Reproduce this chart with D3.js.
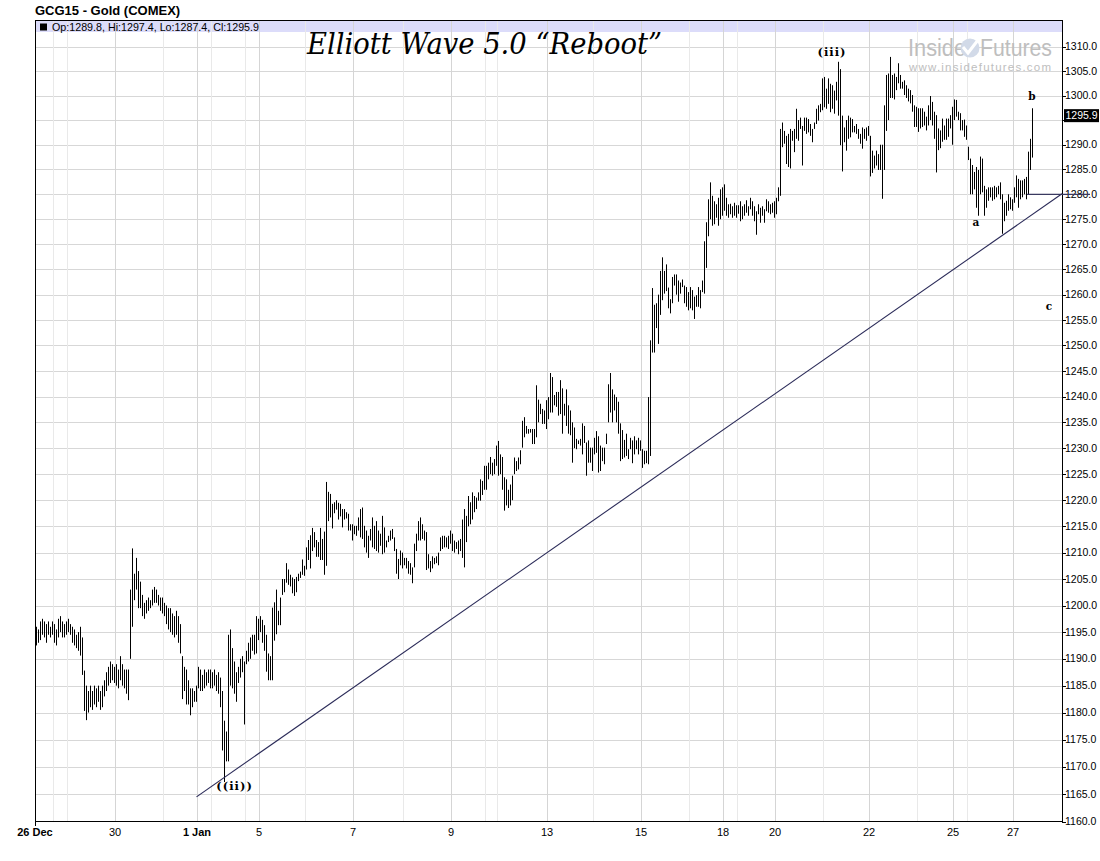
<!DOCTYPE html>
<html>
<head>
<meta charset="utf-8">
<script src="https://cdn.jsdelivr.net/npm/d3@7"></script>
<style>
  body { margin: 0; background: #fff; }
  svg { display: block; }
</style>
</head>
<body>
<div id="viz"></div>
<script>
const width = 1100;
const height = 861;
const plot = {left: 35, right: 1062, top: 21, bottom: 822};

// hourly bars, high / low
const highs = [
  1196,1195.5,1197,1197.5,1197,1196.5,1197,1196,1197,1196.5,1195.5,1197.5,1198,1197,1196.5,1197,1197.5,1196.5,1196,1195.5,1194.5,1195,1196,
  1194,1187.8,1185,1184,1185,1184,1185,1184.5,1185,1184,1185,1186,1187.5,1188.5,1189.5,1189,1188.5,1189,1188,1190.5,1189,1188,1188,1188,
  1203,1210.8,1206,1209,1206.5,1204.5,1202,1200.5,1201,1201.5,1201,1203,1203.5,1203,1202,1201.5,1201.5,1200.5,1200,1199.5,1199.5,1198.5,1198,1199,1198,1196.5,
  1190.5,1188.5,1188,1186,1184.5,1184.5,1184,1185,1188.5,1188,1187,1188,1187.5,1188,1188,1187.5,1188,1187,1187.5,1186.5,1184,1178.5,1176.5,1194.5,
  1195.5,1192,1189.5,1187.5,1188.5,1190,1190.5,1189.5,1191.5,1193,1194,1194.5,1194.5,1198,1197.5,1198,
  1197.3,1196.3,1194.5,1191,1190.5,1199.6,1200.6,1203,1199,1201.5,1205,1205,1208,1206.8,1205.8,1205.3,1205,1205.4,1206,1206.4,1208.7,1207.5,1211,1212.4,1213.3,1214.7,1213.9,1212.4,1212,1214.7,1212.6,1214,1223.5,1221.6,
  1221.2,1219.3,1219.6,1220,1219.5,1219.3,1218.3,1218.3,1217.7,1217.4,1215.4,1215.4,1215.1,1215.1,1216.7,1218.3,1218.6,1215.1,1214.2,1213.2,1214.5,1216.7,1215.1,1216,1214.2,1213.6,1217,1214.8,1212.3,1213.2,1214.2,1214.5,1212.9,1210.7,
  1208.8,1210.4,1210,1209,1209,1208.4,1208,1207.2,1211.7,1213.6,1216,1216.7,1215.4,1214.2,1213.9,1209.7,1208.4,1209.3,1209,1209.3,1210,1212.9,1213.2,1213.2,1212.9,1213.2,1214.2,1213.6,1212.3,1212,1212.3,1212.6,1216.3,1218.3,1217,1220.8,1219.6,1221.5,1220.8,1220.5,1221.5,1224,
  1223.7,1226.6,1226.6,1227.2,1228.3,1227.2,1227.9,1230.5,1231.4,1228.8,1228.3,1224.4,1224,1222,1223,1224.7,1228.2,1227.5,1228.2,1229.6,1235.3,1236,1234.3,1233.7,1233.7,1233.7,1233.7,1242.2,1239.4,1238.6,1237.6,1237.3,1239.3,1239.9,1244.6,1243.8,1240.3,1240.9,
  1240.9,1243.2,1241.6,1238.6,1241.4,1238.3,1237.3,1235,1234,1231.8,1231.5,1231.8,1234.8,1234.3,1231.1,1231.5,1230.1,1230.1,1232,1233.3,1232.3,1230.5,1230.1,1230.1,1232.8,1242.4,1244.6,1241.4,1240.4,1239.9,1239,1234.8,1233.5,1231.6,1232.8,1229.8,1232,1231.5,1232.3,1231.5,
  1232,1231.5,1229.8,1229.5,1229.5,1239.9,1251,1261.3,1258,1258.3,1260,1264.7,1267.4,1264.7,1266,1261.4,1259.1,1263.5,1264,1264,1262.8,1262.4,1263,1261.8,1261.5,1260.5,1261.5,1260.9,1259.6,1259.9,1261.5,1260.9,1262.8,1270.6,1274.4,
  1279,1282.4,1279.7,1278.6,1278,1279.3,1281,1281.4,1282,1279.3,1278,1278.1,1277.6,1278.3,1277.8,1277.8,1278.6,1277.6,1278,1278.8,1277.6,1279.3,1278.6,1277.6,1276.6,1278,1277.3,1277.6,1277,1279,1278.6,1278,1278.3,1278.6,1279.3,1281.4,1293.2,1294.5,1292.8,1291.8,
  1292.2,1293.2,1292.8,1293.2,1297.3,1295,1295.5,1293.8,1295.5,1295.5,1295.2,1294.2,1293.2,1294.5,1297.3,1298,1298.3,1303.5,1303.8,1301.4,1303.5,1302.4,1302.1,1301,1302.8,1306.9,1305.4,1295.9,1293.5,1295,1295.9,1295.5,1295.2,1293.8,1294.2,1293.2,1292.2,1293.5,1293.2,1293.5,1293.8,
  1291.8,1288.8,1287.8,1288.8,1288.1,1290,1290,1298,1304.2,1304.5,1307.9,1304.2,1304.5,1303.8,1306.6,1304.2,1302.8,1303.1,1302.1,1301.4,1301.1,1300.1,1298,1297.7,1297.4,1297.4,1297.4,1296.7,1295.7,1298,1299.9,1298.7,1296.7,1296,1293.3,1292.9,1295.3,1293.9,1295.3,1295.3,1296,1297.7,
  1299.2,1299.1,1296.7,1296.4,1295,1295.1,1293.9,1289.6,1287.2,1285.9,1284.5,1285.5,1284.9,1287.6,1287.2,1281.7,1281,1281.4,1281.4,1281.4,1281.7,1281.4,1281.7,1282.4,1280,1278.3,1278.7,1280,1279.4,1279,1281.4,1283.8,1283.1,1282.8,1282.8,1283.1,1283.5,1288.6,1291.2,1297.4
];
const lows = [
  1192.5,1193,1193.5,1194.5,1194,1193,1194.5,1194,1194.5,1193,1192.5,1194,1195,1194,1194,1194.5,1195,1194.5,1193,1192.5,1192,1191.5,1190.6,
  1187,1180.3,1178.6,1180,1181,1180.5,1181.5,1181,1182,1180.5,1181,1183,1184,1185,1185.5,1186,1185.5,1185,1184.5,1186,1185,1184.5,1183.5,1182.3,
  1190,1196,1201,1203,1199.5,1199.5,1198,1197.5,1198.5,1199,1199.5,1200,1200.5,1200.5,1200,1199,1198.5,1198,1196.5,1195.5,1195,1194.5,1194,1194.5,1193,1191,
  1182.5,1184,1181.5,1181.5,1179.5,1181,1182,1182,1184.5,1184,1184,1184.5,1185,1185.5,1184.5,1184.5,1185,1184,1183.5,1181,1173,1167.2,1171,1171,
  1185,1184.5,1183.5,1182,1185.5,1186.5,1187.5,1177.8,1189,1189.5,1190,1191.5,1190.8,1191,1193.5,1195,
  1193,1191.5,1187.6,1186,1186,1186,1193.4,1194.6,1196.3,1196.3,1202,1202.5,1204.3,1203.9,1203.6,1202.3,1201.8,1202.5,1204.6,1205.2,1205.8,1205.6,1206.8,1208.6,1207,1210.3,1211,1209.2,1209.2,1208.6,1208.6,1205.8,1207.5,1216,
  1216.7,1214.6,1217.5,1218.2,1216.3,1216.9,1214.8,1216.3,1216.5,1214.2,1214.2,1212.3,1213.5,1213.2,1214.2,1212.9,1212.6,1211,1210,1209,1212.3,1211,1210.7,1210.3,1210,1211.3,1209.7,1210,1211,1212,1212.3,1212.6,1210.3,1206,
  1205,1207.6,1207,1207.6,1207,1206,1205.8,1204.2,1207.2,1210.3,1212.3,1212.3,1212.6,1212.3,1206.7,1207,1206.3,1207,1207.8,1208,1207.6,1210.3,1210.7,1211,1211,1210.7,1211.7,1210.3,1210,1210.7,1209.7,1210.3,1209,1207.2,1212,1215,1215.4,1216.3,1217.7,1218.3,1219.9,1219.9,
  1221,1222,1222,1224,1225,1224.7,1225,1226.6,1224.7,1225,1222,1218,1219,1218.5,1219,1220,1225,1225.6,1225.9,1226.9,1230.1,1232.1,1232.8,1232.8,1233,1230.8,1230.8,1232.1,1235,1236.6,1234.7,1234.7,1233.7,1235.6,1236.9,1236.9,1238.3,1238,
  1236.3,1236.6,1232.8,1236.3,1234.3,1232.8,1232.5,1227.2,1230,1229.8,1230.8,1230.5,1228.8,1231,1224.7,1227.2,1227.2,1225.6,1228.8,1229.1,1225.3,1225.6,1227.5,1226.9,1230.8,1235,1236.9,1235,1237.3,1235,1232.8,1227.5,1227.9,1228.2,1228.5,1227.9,1229.8,1227.1,1228.8,1229.8,
  1228.8,1229.5,1226.2,1226.9,1227.1,1226.9,1228.5,1248.6,1248.6,1253.4,1250.3,1256,1258.9,1260.2,1260.7,1257.3,1256.3,1258.3,1261.8,1260,1258.6,1260.2,1261.5,1258.3,1257.6,1256.9,1257.3,1256.9,1255.2,1257.6,1257.6,1257.3,1260.5,1260.2,1265.3,
  1271.6,1275,1273.7,1274,1275.3,1273.7,1275,1275.7,1276.7,1275.7,1275.3,1276,1275.3,1275.7,1275.3,1276.1,1274.6,1275,1275.7,1276.3,1275.7,1277,1275.7,1274.6,1271.9,1276,1274.3,1275.7,1274.3,1276.6,1276.3,1276,1276.3,1275.3,1276,1278.6,1279.7,1289.5,1290.2,1286.1,
  1285.5,1285.2,1290.8,1288.5,1291.2,1290.8,1293.2,1285.8,1292.8,1292.2,1292.5,1291.8,1290.5,1293.2,1294.2,1294.9,1296.6,1297,1297.6,1297.3,1298.3,1296.6,1297.3,1296.3,1299,1295.9,1289.9,1284.6,1290.5,1288.8,1291.2,1291.5,1292.5,1292.5,1292.2,1291.2,1290.2,1289.2,1291.2,1290.8,1291.8,
  1283.6,1284.3,1285.2,1285.8,1284.9,1284.9,1279.1,1284.9,1292.8,1295,1299.5,1299.5,1299.2,1301.1,1302.5,1301.4,1301.4,1300.1,1299.5,1298.8,1298.4,1296.7,1293.6,1293.6,1292.6,1293.3,1293.6,1293.9,1292.9,1293.9,1295,1293.9,1291.2,1284.4,1288.9,1289.3,1290.6,1291,1291,1291.6,1293.3,1290,
  1295,1295.7,1295,1292.9,1292.9,1291.6,1291,1286.9,1280,1280,1281,1277.3,1275.7,1280,1280.4,1275.7,1277.3,1278.7,1279.4,1278.7,1279,1279.4,1280,1279,1272.1,1274.6,1275.7,1276.7,1277,1276.7,1278.3,1279.4,1277.3,1279,1279.4,1280,1279,1280,1284.9,1287.4
];

// x axis: session boundaries (bar index) and labels
const tickDays   = [0, 40, 81, 112, 159, 208, 256, 303, 344, 370, 417, 459, 489];
const tickLabels = ['26 Dec', '30', '1 Jan', '5', '7', '9', '13', '15', '18', '20', '22', '25', '27'];
const boldTicks  = ['26 Dec', '1 Jan'];
const minorDays  = [9, 16, 64, 88, 105, 135, 184, 225, 231, 279, 327, 351, 394, 441, 466];

const priceTicks = d3.range(1160, 1310.1, 5);
const lastBar = {op: 1289.8, hi: 1297.4, lo: 1287.4, cl: 1295.9};

// hand drawn annotations: [bar index, price]
const trendLine = [[80.75, 1164.5], [513.5, 1280.1]];
const flatLine  = [[496, 1280], [527.5, 1280]];
const waveLabels = ['((ii))', '(iii)', 'a', 'b', 'c'];
const waveX      = [99.8, 398.5, 470.5, 498.5, 507];
const wavePrice  = [1165.7, 1308.1, 1273.6, 1299.1, 1256.9];

const x = d3.scaleLinear().domain([0, 513.5]).range([plot.left, plot.right]);
const y = d3.scaleLog().domain([1160, 1310]).range([821.5, 46.7]);

const svg = d3.select('#viz').append('svg')
  .attr('width', width)
  .attr('height', height)
  .style('font-family', '"Liberation Sans", Arial, sans-serif');

svg.append('rect').attr('width', width).attr('height', height).attr('fill', '#fff');

// title bar
svg.append('text')
  .attr('x', 35).attr('y', 14.5)
  .attr('font-size', 13).attr('font-weight', 'bold')
  .text('GCG15 - Gold (COMEX)');

svg.append('rect')
  .attr('x', plot.left).attr('y', plot.top)
  .attr('width', plot.right - plot.left).attr('height', 11)
  .attr('fill', '#dcdcfa');

// grid
svg.append('g')
  .selectAll('line')
  .data(priceTicks.filter(d => d > 1160))
  .join('line')
    .attr('x1', plot.left).attr('x2', plot.right)
    .attr('y1', d => Math.round(y(d)) + 0.5).attr('y2', d => Math.round(y(d)) + 0.5)
    .attr('stroke', '#d7d7d7');

svg.append('g')
  .selectAll('line')
  .data(minorDays)
  .join('line')
    .attr('x1', d => Math.round(x(d)) + 0.5).attr('x2', d => Math.round(x(d)) + 0.5)
    .attr('y1', plot.top).attr('y2', plot.bottom)
    .attr('stroke', '#e9e9e9');

svg.append('g')
  .selectAll('line')
  .data(tickDays.slice(1))
  .join('line')
    .attr('x1', d => Math.round(x(d)) + 0.5).attr('x2', d => Math.round(x(d)) + 0.5)
    .attr('y1', plot.top).attr('y2', plot.bottom)
    .attr('stroke', '#d5d5d5');

svg.append('text')
  .attr('x', 52).attr('y', 30.5)
  .attr('font-size', 11)
  .attr('textLength', 207)
  .attr('lengthAdjust', 'spacingAndGlyphs')
  .text(`Op:${lastBar.op}, Hi:${lastBar.hi}, Lo:${lastBar.lo}, Cl:${lastBar.cl}`);
svg.append('rect').attr('x', 40).attr('y', 23.5).attr('width', 7).attr('height', 7).attr('fill', '#000');

// watermark logo
const logo = svg.append('g').attr('fill', '#bebebe');
logo.append('text')
  .attr('x', 908).attr('y', 56)
  .attr('font-size', 23)
  .attr('textLength', 58).attr('lengthAdjust', 'spacingAndGlyphs')
  .text('Inside');
logo.append('circle').attr('cx', 970).attr('cy', 48).attr('r', 9.5).attr('fill', '#d2dae8');
logo.append('path')
  .attr('d', 'M963,47 L968,53 L978,40')
  .attr('fill', 'none').attr('stroke', '#fff').attr('stroke-width', 3);
logo.append('text')
  .attr('x', 980).attr('y', 56)
  .attr('font-size', 23)
  .attr('textLength', 72).attr('lengthAdjust', 'spacingAndGlyphs')
  .text('Futures');
logo.append('text')
  .attr('x', 909).attr('y', 71)
  .attr('font-size', 11.5)
  .attr('textLength', 142).attr('lengthAdjust', 'spacing')
  .text('www.insidefutures.com');

// chart title
svg.append('text')
  .attr('x', 307).attr('y', 54)
  .attr('font-family', '"DejaVu Serif", "Liberation Serif", serif')
  .attr('font-style', 'italic')
  .attr('font-size', 30)
  .attr('textLength', 355).attr('lengthAdjust', 'spacingAndGlyphs')
  .text('Elliott Wave 5.0 \u201CReboot\u201D');

// price bars
svg.append('g')
  .selectAll('line')
  .data(d3.range(highs.length))
  .join('line')
    .attr('x1', i => x(i + 0.5) + 0.5).attr('x2', i => x(i + 0.5) + 0.5)
    .attr('y1', i => y(highs[i])).attr('y2', i => y(lows[i]))
    .attr('stroke', '#000').attr('stroke-width', 1);

// trend lines
const line = d3.line().x(d => x(d[0])).y(d => y(d[1]));
svg.append('path').attr('d', line(trendLine))
  .attr('fill', 'none').attr('stroke', '#2a2a58').attr('stroke-width', 1.1);

// frame
svg.append('rect')
  .attr('x', plot.left + 0.5).attr('y', plot.top - 0.5)
  .attr('width', plot.right - plot.left).attr('height', plot.bottom - plot.top)
  .attr('fill', 'none').attr('stroke', '#000');

// price axis
svg.append('g')
  .selectAll('line')
  .data(priceTicks)
  .join('line')
    .attr('x1', plot.right).attr('x2', plot.right + 4)
    .attr('y1', d => Math.round(y(d)) + 0.5).attr('y2', d => Math.round(y(d)) + 0.5)
    .attr('stroke', '#000');

// the last price box hides the tick label it sits on
svg.append('g')
  .selectAll('text')
  .data(priceTicks.filter(d => Math.abs(y(d) - y(lastBar.cl)) > 9))
  .join('text')
    .attr('x', 1065).attr('y', d => y(d))
    .attr('dy', '0.35em')
    .attr('font-size', 10.5)
    .text(d => d.toFixed(1));

svg.append('rect')
  .attr('x', 1064).attr('y', y(lastBar.cl) - 6.5)
  .attr('width', 35).attr('height', 13)
  .attr('fill', '#000');
svg.append('text')
  .attr('x', 1065.5).attr('y', y(lastBar.cl))
  .attr('dy', '0.35em')
  .attr('font-size', 10.5).attr('fill', '#fff')
  .text(lastBar.cl.toFixed(1));

svg.append('path').attr('d', line(flatLine))
  .attr('fill', 'none').attr('stroke', '#3a3a60').attr('stroke-width', 1.2);

// time axis
svg.append('line')
  .attr('x1', plot.left + 0.5).attr('x2', plot.left + 0.5)
  .attr('y1', plot.bottom).attr('y2', plot.bottom + 4)
  .attr('stroke', '#000');

svg.append('g')
  .selectAll('text')
  .data(tickDays)
  .join('text')
    .attr('x', d => x(d))
    .attr('y', 836)
    .attr('text-anchor', 'middle')
    .attr('font-size', 11)
    .attr('font-weight', (d, i) => boldTicks.includes(tickLabels[i]) ? 'bold' : 'normal')
    .text((d, i) => tickLabels[i]);

// wave count labels
svg.append('g')
  .selectAll('text')
  .data(waveLabels)
  .join('text')
    .attr('x', (d, i) => x(waveX[i]))
    .attr('y', (d, i) => y(wavePrice[i]))
    .attr('text-anchor', 'middle')
    .attr('font-family', '"DejaVu Serif", serif')
    .attr('font-weight', 'bold')
    .attr('font-size', d => d.length > 1 ? 11.5 : 10.5)
    .attr('letter-spacing', d => d.length > 1 ? 1 : 0)
    .text(d => d);
</script>
</body>
</html>
